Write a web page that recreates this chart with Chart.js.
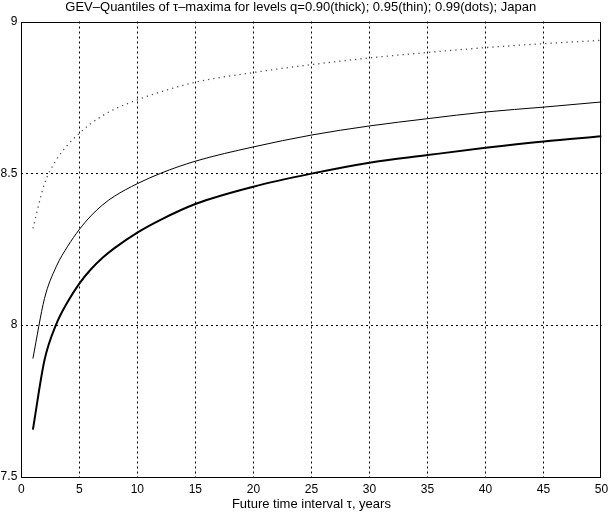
<!DOCTYPE html>
<html>
<head>
<meta charset="utf-8">
<script src="https://cdn.jsdelivr.net/npm/chart.js@4"></script>
<style>
  html, body { margin: 0; padding: 0; background: #fff; }
  #wrap { width: 609px; height: 512px; }
</style>
</head>
<body>
<div id="wrap"><canvas id="gev-chart"></canvas></div>
<script>
// future time interval tau (years) where the curves were read
var tau = [1, 2, 3, 4, 5, 6, 7, 8, 10, 12, 15, 20, 25, 30, 35, 40, 45, 50];
// quantiles of tau-maxima
var q90 = [7.656, 7.885, 8.002, 8.077, 8.137, 8.184, 8.222, 8.253, 8.305, 8.347, 8.399, 8.456, 8.499, 8.535, 8.560, 8.584, 8.605, 8.622];
var q95 = [7.890, 8.088, 8.192, 8.260, 8.315, 8.360, 8.396, 8.424, 8.466, 8.500, 8.540, 8.587, 8.626, 8.656, 8.680, 8.702, 8.718, 8.735];
var q99 = [8.319, 8.466, 8.543, 8.594, 8.632, 8.664, 8.690, 8.711, 8.742, 8.768, 8.800, 8.832, 8.858, 8.880, 8.898, 8.914, 8.927, 8.938];

var xTicks = [0, 5, 10, 15, 20, 25, 30, 35, 40, 45, 50];
var yTicks = [7.5, 8, 8.5, 9];

function pts(ys) {
  return tau.map(function (t, i) { return { x: t, y: ys[i] }; });
}

var family = "'Liberation Sans', Arial, sans-serif";
var font = { family: family, size: 12 };
var bigFont = { family: family, size: 13 };

// box around the plot area, like matlab's axes
var frame = {
  id: 'frame',
  afterDraw: function (chart) {
    var a = chart.chartArea, c = chart.ctx;
    c.save();
    c.strokeStyle = '#000';
    c.lineWidth = 1;
    c.strokeRect(Math.round(a.left) + 0.5, Math.round(a.top) + 0.5,
      Math.round(a.right - a.left) - 1, Math.round(a.bottom - a.top) - 1);
    c.restore();
  }
};

function gridColor(ctx) {
  var v = ctx.tick && ctx.tick.value;
  var s = ctx.scale;
  if (v === s.min || v === s.max) return 'rgba(0,0,0,0)';
  return '#000';
}

var ctx = document.getElementById('gev-chart').getContext('2d');
var chart = new Chart(ctx, {
  type: 'line',
  data: {
    datasets: [
      { label: 'q=0.90', data: pts(q90), borderColor: '#000', borderWidth: 2 },
      { label: 'q=0.95', data: pts(q95), borderColor: '#000', borderWidth: 1 },
      { label: 'q=0.99', data: pts(q99), borderColor: '#555', borderWidth: 1.3, borderDash: [1.3, 4] }
    ]
  },
  options: {
    responsive: true,
    maintainAspectRatio: false,
    animation: false,
    layout: { padding: { left: 0, right: 7.5, top: 0, bottom: 0 } },
    elements: {
      point: { radius: 0 },
      line: { cubicInterpolationMode: 'monotone', fill: false }
    },
    plugins: {
      legend: { display: false },
      tooltip: { enabled: false },
      title: {
        display: true,
        text: 'GEV\u2013Quantiles of \u03c4\u2013maxima for levels q=0.90(thick); 0.95(thin); 0.99(dots); Japan',
        color: '#000',
        font: { family: family, size: 13, weight: 'normal' },
        padding: { top: 0, bottom: 5.9 }
      }
    },
    scales: {
      x: {
        type: 'linear',
        min: 0, max: 50,
        afterBuildTicks: function (s) { s.ticks = xTicks.map(function (v) { return { value: v }; }); },
        afterFit: function (s) { s.height = 35; s.paddingLeft = 0; s.paddingRight = 0; },
        border: { display: false, dash: [2, 3] },
        grid: { color: gridColor, lineWidth: 1, drawTicks: false },
        ticks: { color: '#000', font: font, padding: 5, maxRotation: 0 },
        title: {
          display: true,
          text: 'Future time interval \u03c4, years',
          color: '#000',
          font: bigFont,
          padding: { top: 0, bottom: 0 }
        }
      },
      y: {
        type: 'linear',
        min: 7.5, max: 9,
        afterBuildTicks: function (s) { s.ticks = yTicks.map(function (v) { return { value: v }; }); },
        afterFit: function (s) { s.width = 21.3; s.paddingTop = 0; s.paddingBottom = 0; },
        border: { display: false, dash: [2, 3] },
        grid: { color: gridColor, lineWidth: 1, drawTicks: false },
        ticks: {
          color: '#000', font: font, padding: 4,
          callback: function (v) { return String(v); }
        }
      }
    }
  },
  plugins: [frame]
});
</script>
</body>
</html>
